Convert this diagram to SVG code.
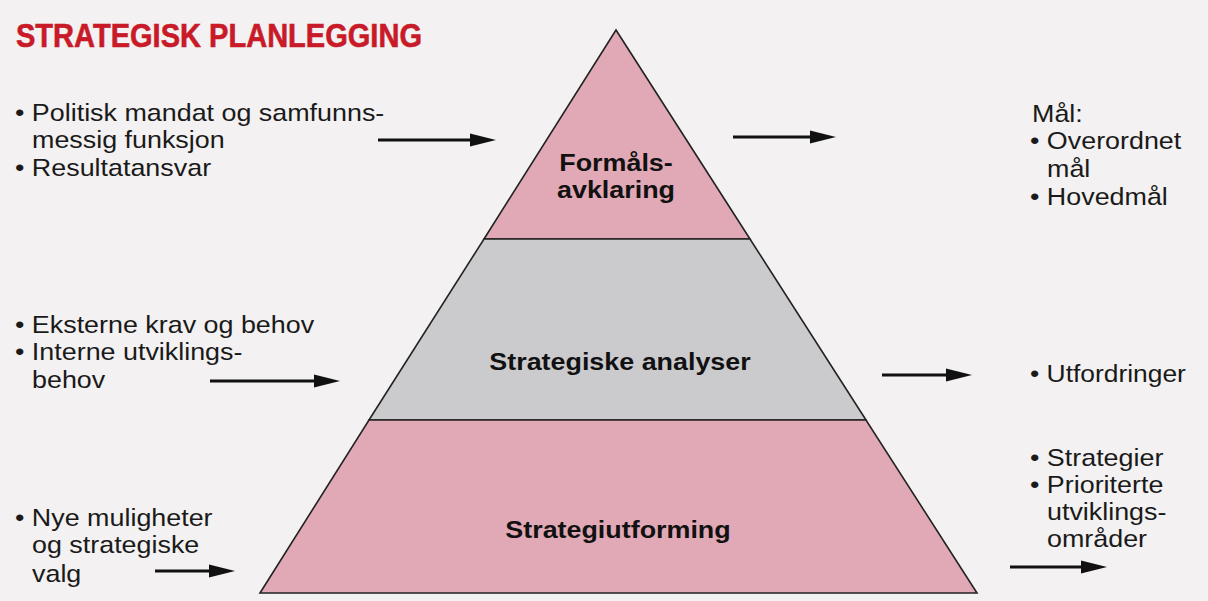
<svg xmlns="http://www.w3.org/2000/svg" width="1208" height="601" viewBox="0 0 1208 601">
<defs>
<style>
.t{font-family:"Liberation Sans",Arial,sans-serif;font-size:24px;fill:#1a1a1a}
.b{font-family:"Liberation Sans",Arial,sans-serif;font-size:24px;font-weight:bold;fill:#111;text-anchor:middle}
.title{font-family:"Liberation Sans",Arial,sans-serif;font-size:33px;font-weight:bold;fill:#c81a28;stroke:#c81a28;stroke-width:0.6}
.layer{stroke:#222;stroke-width:1.6;stroke-linejoin:miter}
.pink{fill:#e1a8b6}
.gray{fill:#cbcacd}
.arr{stroke:#111;stroke-width:3;fill:none}
.ah{fill:#111}
</style>
</defs>
<rect width="1208" height="601" fill="#f3f1f1"/>
<text class="title" x="16" y="47" textLength="406" lengthAdjust="spacingAndGlyphs">STRATEGISK PLANLEGGING</text>

<g id="pyramid">
<g id="formalsavklaring">
<polygon class="layer pink" points="616,30 750,239 484,239"/>
<text class="b" transform="matrix(1.12 0 0 1 616 171)">Formåls-</text>
<text class="b" transform="matrix(1.12 0 0 1 616 198)">avklaring</text>
</g>
<g id="strategiske-analyser">
<polygon class="layer gray" points="484,239 750,239 866,420 369,420"/>
<text class="b" transform="matrix(1.12 0 0 1 620 370)">Strategiske analyser</text>
</g>
<g id="strategiutforming">
<polygon class="layer pink" points="369,420 866,420 977,593 260,593"/>
<text class="b" transform="matrix(1.12 0 0 1 618 538)">Strategiutforming</text>
</g>
</g>

<g id="inputs">
<g id="input-1">
<text class="t" transform="matrix(1.12 0 0 1 15 121)">• Politisk mandat og samfunns-</text>
<text class="t" transform="matrix(1.12 0 0 1 32 148)">messig funksjon</text>
<text class="t" transform="matrix(1.12 0 0 1 15 176)">• Resultatansvar</text>
</g>
<g id="input-2">
<text class="t" transform="matrix(1.12 0 0 1 15 333)">• Eksterne krav og behov</text>
<text class="t" transform="matrix(1.12 0 0 1 15 360)">• Interne utviklings-</text>
<text class="t" transform="matrix(1.12 0 0 1 32 388)">behov</text>
</g>
<g id="input-3">
<text class="t" transform="matrix(1.12 0 0 1 15 526)">• Nye muligheter</text>
<text class="t" transform="matrix(1.12 0 0 1 32 553)">og strategiske</text>
<text class="t" transform="matrix(1.12 0 0 1 32 582)">valg</text>
</g>
</g>

<g id="outputs">
<g id="output-1">
<text class="t" transform="matrix(1.12 0 0 1 1032 122)">Mål:</text>
<text class="t" transform="matrix(1.12 0 0 1 1030 149)">• Overordnet</text>
<text class="t" transform="matrix(1.12 0 0 1 1047 177)">mål</text>
<text class="t" transform="matrix(1.12 0 0 1 1030 205)">• Hovedmål</text>
</g>
<g id="output-2">
<text class="t" transform="matrix(1.1 0 0 1 1030 382)">• Utfordringer</text>
</g>
<g id="output-3">
<text class="t" transform="matrix(1.12 0 0 1 1030 466)">• Strategier</text>
<text class="t" transform="matrix(1.12 0 0 1 1030 493)">• Prioriterte</text>
<text class="t" transform="matrix(1.12 0 0 1 1047 520)">utviklings-</text>
<text class="t" transform="matrix(1.12 0 0 1 1047 547)">områder</text>
</g>
</g>

<g id="connectors">
<line class="arr" x1="378" y1="140" x2="474" y2="140"/><path class="ah" d="M470,133.5 L496,140 L470,146.5 z"/>
<line class="arr" x1="733" y1="137" x2="814" y2="137"/><path class="ah" d="M810,130.5 L836,137 L810,143.5 z"/>
<line class="arr" x1="210" y1="381" x2="318" y2="381"/><path class="ah" d="M314,374.5 L340,381 L314,387.5 z"/>
<line class="arr" x1="882" y1="375" x2="950" y2="375"/><path class="ah" d="M946,368.5 L972,375 L946,381.5 z"/>
<line class="arr" x1="155" y1="571" x2="213" y2="571"/><path class="ah" d="M209,564.5 L235,571 L209,577.5 z"/>
<line class="arr" x1="1010" y1="567" x2="1085" y2="567"/><path class="ah" d="M1081,560.5 L1107,567 L1081,573.5 z"/>
</g>
</svg>
